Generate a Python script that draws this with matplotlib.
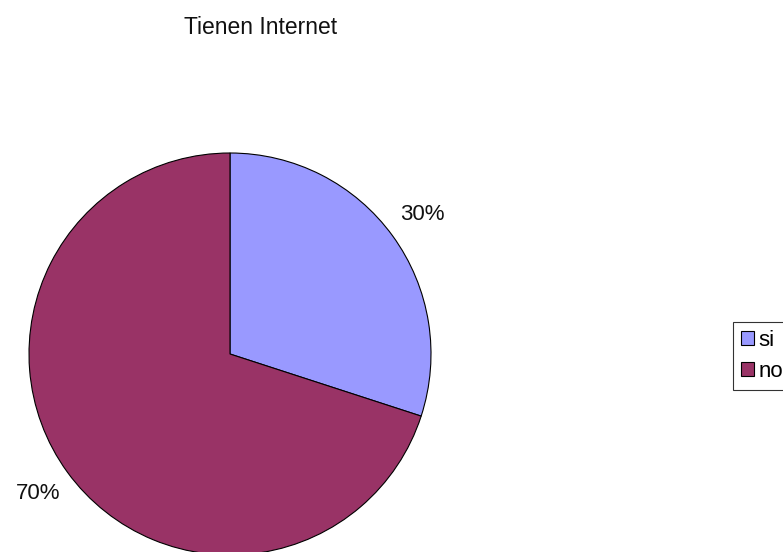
import matplotlib.pyplot as plt

labels = ['si', 'no']
values = [30, 70]
colors = ['#9999FF', '#993366']

plt.rcParams['font.family'] = ['Liberation Sans', 'DejaVu Sans']

fig = plt.figure(figsize=(7.83, 5.52), dpi=100)
fig.patch.set_facecolor('white')

# pie axes: centre ~ (230,354) px, radius ~201 px
ax = fig.add_axes([29 / 783, -3 / 552, 402 / 783, 402 / 552])
wedges, texts, autotexts = ax.pie(values, colors=colors, startangle=90, counterclock=False,
	radius=1, autopct='%1.0f%%', pctdistance=1.18,
	wedgeprops={'edgecolor': 'black', 'linewidth': 0.8},
	textprops={'fontsize': 16, 'color': '#111111'})
ax.set_xlim(-1, 1)
ax.set_ylim(-1, 1)
ax.set_aspect('equal')
ax.axis('off')

fig.text(261 / 783, 1 - 28 / 552, 'Tienen Internet', ha='center', va='center',
	fontsize=16.5, color='#111111')

leg = fig.legend(wedges, labels, loc='upper left', bbox_to_anchor=(733 / 783, 1 - 322 / 552),
	fontsize=16, frameon=True, fancybox=False, handlelength=0.6, handleheight=0.6,
	handletextpad=0.2, borderpad=0.35, labelspacing=0.45, borderaxespad=0)
leg.get_frame().set_edgecolor('black')
leg.get_frame().set_linewidth(0.8)

fig.savefig('out.png', dpi=100)
